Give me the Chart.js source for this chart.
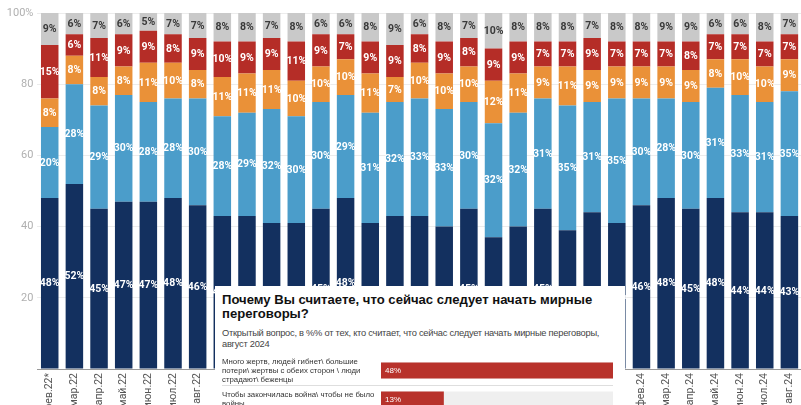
<!DOCTYPE html>
<html>
<head>
<meta charset="utf-8">
<script src="https://cdn.jsdelivr.net/npm/chart.js@4.4.1/dist/chart.umd.min.js"></script>
<style>
  html, body { margin: 0; padding: 0; background: #fff; overflow: hidden; width: 801px; height: 405px; }
  #main { position: absolute; left: 0; top: 0; width: 806px; height: 430px; }
  #card { position: absolute; left: 215px; top: 286px; width: 410px; height: 140px; background: #fff; font-family: "Liberation Sans", Arial, sans-serif; }
  #card .ttl { position: absolute; left: 7px; top: 7px; font-size: 13.1px; font-weight: bold; line-height: 14px; color: #111; white-space: nowrap; }
  #card .sub { position: absolute; left: 7px; top: 42px; font-size: 9.3px; line-height: 11px; color: #444; letter-spacing: -0.25px; white-space: nowrap; }
  #mini { position: absolute; left: 7px; top: 70px; width: 391px; height: 58px; }
</style>
</head>
<body>
<div id="main"><canvas id="myChart"></canvas></div>
<div id="card">
  <div class="ttl">Почему Вы считаете, что сейчас следует начать мирные<br>переговоры?</div>
  <div class="sub">Открытый вопрос, в %% от тех, кто считает, что сейчас следует начать мирные переговоры,<br>август 2024</div>
  <div id="mini"><canvas id="reasons"></canvas></div>
</div>
<script>
const months = ['фев.22*', 'мар.22', 'апр.22', 'май.22', 'июн.22', 'июл.22', 'авг.22', 'сен.22', 'окт.22', 'ноя.22', 'дек.22',
    'янв.23', 'фев.23', 'мар.23', 'апр.23', 'май.23', 'июн.23', 'июл.23', 'авг.23', 'сен.23', 'окт.23', 'ноя.23', 'дек.23',
    'янв.24', 'фев.24', 'мар.24', 'апр.24', 'май.24', 'июн.24', 'июл.24', 'авг.24'];
const navy = [48, 52, 45, 47, 47, 48, 46, 43, 43, 41, 41, 45, 48, 41, 43, 43, 40, 45, 37, 40, 45, 39, 44, 41, 46, 48, 45, 48, 44, 44, 43];
const lightBlue = [20, 28, 29, 30, 28, 28, 30, 28, 29, 32, 30, 30, 29, 31, 32, 33, 33, 30, 32, 32, 31, 35, 31, 35, 30, 28, 30, 31, 33, 31, 35];
const orange = [8, 8, 8, 8, 11, 10, 8, 11, 11, 11, 10, 10, 10, 11, 7, 10, 10, 10, 12, 11, 9, 11, 9, 9, 9, 9, 9, 8, 10, 10, 9];
const red = [15, 6, 11, 9, 9, 8, 9, 10, 9, 9, 11, 9, 7, 9, 9, 8, 9, 8, 9, 9, 7, 7, 9, 7, 7, 7, 8, 7, 7, 7, 7];
const gray = [9, 6, 7, 6, 5, 7, 7, 8, 8, 7, 8, 6, 6, 8, 9, 6, 8, 7, 10, 8, 8, 8, 7, 8, 8, 9, 9, 6, 6, 8, 7];
const yTicks = [0, 20, 40, 60, 80, 100];

const reasons = [
    ['Много жертв, людей гибнет\\ большие', 'потери\\ жертвы с обеих сторон \\ люди', 'страдают\\ беженцы'],
    ['Чтобы закончилась война\\ чтобы не было', 'войны']
];
const reasonValues = [48, 13];
const reasonMax = 48;

// value text in the middle of every stacked piece
const segmentLabels = {
    id: 'segmentLabels',
    afterDatasetsDraw(chart) {
        const c = chart.ctx;
        c.save();
        c.font = 'bold 10.5px Roboto';
        c.textAlign = 'center';
        c.textBaseline = 'middle';
        chart.data.datasets.forEach((ds, i) => {
            chart.getDatasetMeta(i).data.forEach((bar, j) => {
                const p = bar.getProps(['x', 'y', 'base'], true);
                const top = Math.max(p.y, chart.chartArea.top);
                c.fillStyle = ds.labelColor;
                c.fillText(ds.data[j] + '%', p.x, (top + p.base) / 2 + 0.5);
            });
        });
        c.restore();
    }
};

const ctx = document.getElementById('myChart').getContext('2d');
const myChart = new Chart(ctx, {
    type: 'bar',
    data: {
        labels: months,
        datasets: [
            { label: 'navy', data: navy, backgroundColor: '#13305f', labelColor: '#fff' },
            { label: 'lightBlue', data: lightBlue, backgroundColor: '#4b9dca', labelColor: '#fff' },
            { label: 'orange', data: orange, backgroundColor: '#ea9138', labelColor: '#fff' },
            { label: 'red', data: red, backgroundColor: '#b52d27', labelColor: '#fff' },
            { label: 'gray', data: gray, backgroundColor: '#c9c9c9', labelColor: '#3a3a3a' }
        ]
    },
    options: {
        responsive: true,
        maintainAspectRatio: false,
        animation: false,
        barPercentage: 0.71,
        categoryPercentage: 1,
        layout: { padding: { top: 13, left: 0, right: 0, bottom: 0 } },
        plugins: { legend: { display: false }, tooltip: { enabled: false } },
        scales: {
            x: {
                stacked: true,
                grid: { display: false, drawTicks: false },
                border: { color: '#9a9a9a' },
                ticks: { color: '#555', font: { family: 'Roboto', size: 10.5 }, maxRotation: 90, minRotation: 90, padding: 4, autoSkip: false },
                afterFit(scale) { scale.height = 61; }
            },
            y: {
                stacked: true,
                min: 0,
                max: 100,
                afterBuildTicks(scale) { scale.ticks = yTicks.map(v => ({ value: v })); },
                grid: { color: '#ececec', drawTicks: false },
                border: { display: false },
                ticks: {
                    color: '#b0b0b0',
                    font: { family: 'Roboto', size: 11 },
                    padding: 4,
                    callback: v => v === 100 ? '100%' : (v === 0 ? '' : v)
                },
                afterFit(scale) { scale.width = 37.4; }
            }
        }
    },
    plugins: [segmentLabels]
});

// small chart in the card
const insideLabels = {
    id: 'insideLabels',
    afterDatasetsDraw(chart) {
        const c = chart.ctx;
        c.save();
        c.font = '8px "Liberation Sans"';
        c.fillStyle = '#fff';
        c.textBaseline = 'middle';
        chart.getDatasetMeta(0).data.forEach((bar, j) => {
            const p = bar.getProps(['y', 'base'], true);
            c.fillText(chart.data.datasets[0].data[j] + '%', p.base + 4, p.y + 0.5);
        });
        c.restore();
    }
};

const reas = document.getElementById('reasons').getContext('2d');
const reasonsChart = new Chart(reas, {
    type: 'bar',
    data: {
        labels: reasons,
        datasets: [
            { data: reasonValues, backgroundColor: '#b8322b', grouped: false },
            { data: reasonValues.map(() => reasonMax), backgroundColor: '#efefef', grouped: false }
        ]
    },
    options: {
        indexAxis: 'y',
        responsive: true,
        maintainAspectRatio: false,
        animation: false,
        barPercentage: 0.55,
        categoryPercentage: 1,
        layout: { padding: 0 },
        plugins: { legend: { display: false }, tooltip: { enabled: false } },
        scales: {
            x: { display: false, min: 0, max: reasonMax },
            y: {
                border: { display: false },
                grid: {
                    color: c => c.index === 1 ? '#dedede' : 'rgba(0,0,0,0)',
                    tickLength: 159
                },
                ticks: {
                    autoSkip: false,
                    crossAlign: 'far',
                    padding: 0,
                    color: '#333',
                    font: { family: 'Liberation Sans', size: 7.8, lineHeight: 1.15 }
                },
                afterFit(scale) {
                    scale.width = 159;
                    scale.paddingTop = 0;
                    scale.paddingBottom = 0;
                }
            }
        }
    },
    plugins: [insideLabels]
});
</script>
</body>
</html>
